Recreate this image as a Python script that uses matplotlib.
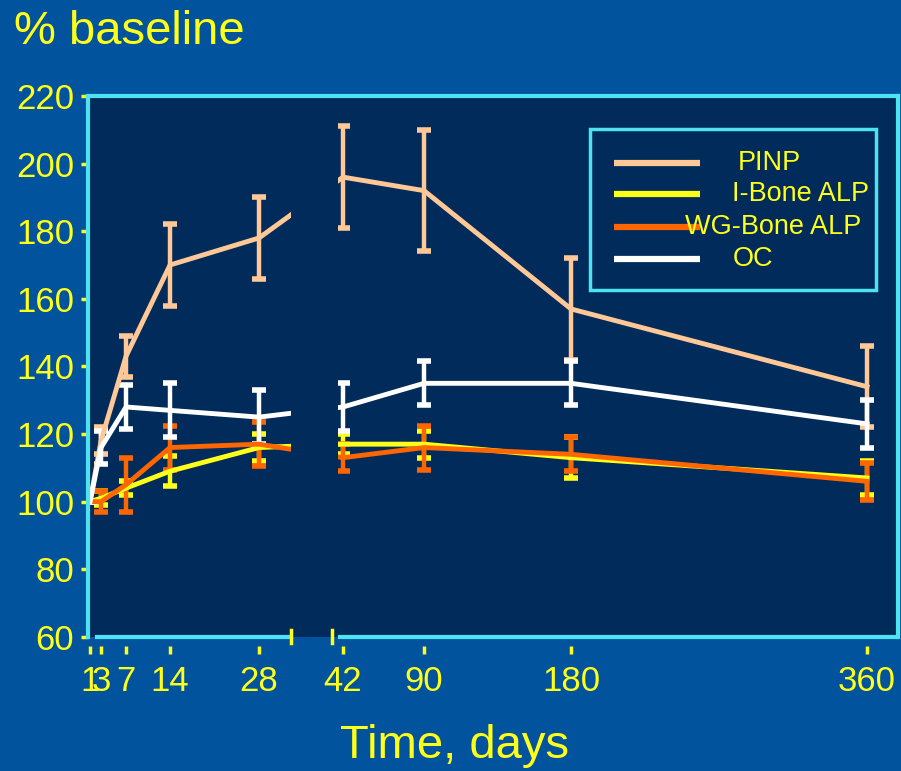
import matplotlib
matplotlib.use("Agg")
import matplotlib.pyplot as plt
import matplotlib.transforms as mtransforms
from matplotlib.patches import Rectangle
import numpy as np

# data
days = [1, 3, 7, 14, 28, 42, 90, 180, 360]
tick_labels = ["1", "3", "7", "14", "28", "42", "90", "180", "360"]

pinp = [100, 118, 143, 170, 178, 196, 192, 157, 134]
pinp_err = [0, 4, 6, 12, 12, 15, 18, 15, 12]
ibone = [100, 101, 104, 109, 116, 117, 117, 113, 107]
ibone_err = [0, 2, 2, 4.5, 4, 3, 4, 6, 5]
wgbone = [100, 100, 105, 116, 117, 113, 116, 114, 106]
wgbone_err = [0, 3, 8, 6.5, 6.5, 4, 6.5, 5, 5.5]
oc = [100, 116, 128, 127, 125, 128, 135, 135, 123]
oc_err = [0, 5, 6.5, 8, 8, 7, 6.5, 6.5, 7]

names = ["PINP", "I-Bone ALP", "WG-Bone ALP", "OC"]
values = [pinp, ibone, wgbone, oc]
errors = [pinp_err, ibone_err, wgbone_err, oc_err]
colors = ["#FFC896", "#FFFF1A", "#FF6600", "#FFFFFF"]

# piecewise-linear axis: day -> position along the axis
knot_days = np.array([0, 1, 3, 7, 14, 28, 42, 90, 180, 360, 375], dtype=float)
knot_pos = np.array([0, 2, 13, 38, 82, 171, 255, 336, 483, 779, 810], dtype=float)


def forward(x):
    return np.interp(x, knot_days, knot_pos)


def inverse(x):
    return np.interp(x, knot_pos, knot_days)


FIG_BG = "#00539C"
AX_BG = "#002B5B"
CYAN = "#4FE3F2"
YELLOW = "#FFFF1A"
plt.rcParams["font.family"] = ["Liberation Sans", "DejaVu Sans"]

fig = plt.figure(figsize=(9.01, 7.71), dpi=100, facecolor=FIG_BG)
ax = fig.add_axes([0.0977, 0.174, 0.899, 0.7015], facecolor=AX_BG)
ax.set_xscale("function", functions=(forward, inverse))
ax.set_xlim(0, 375)
ax.set_ylim(60, 220)

for name, vals, errs, col in zip(names, values, errors, colors):
    ax.errorbar(days, vals, yerr=errs, color=col, lw=3.5, elinewidth=3.2,
                capsize=5, capthick=4, zorder=2)

# axis break between 28 and 42 days
brk_lo, brk_hi = inverse(203), inverse(250)
ax.axvspan(brk_lo, brk_hi, color=AX_BG, zorder=2.2, lw=0)
trans = mtransforms.blended_transform_factory(ax.transData, ax.transAxes)
ax.spines["bottom"].set_bounds(inverse(9), brk_lo)
ax.plot([brk_hi, 375], [0, 0], transform=trans, color=CYAN, lw=3,
        clip_on=False, zorder=5, solid_capstyle="butt")
for xb in (inverse(203), inverse(244)):
    ax.plot([xb, xb], [-0.012, 0.012], transform=trans, color=YELLOW, lw=2.5,
            clip_on=False, zorder=6)

for sp in ax.spines.values():
    sp.set_color(CYAN)
    sp.set_linewidth(3)

# x ticks: detached short marks below the axis line
ax.set_xticks(days)
ax.set_xticklabels(tick_labels)
ax.plot(days, [-0.024] * len(days), transform=trans, ls="none", marker="|",
        ms=6, mew=2.5, color=YELLOW, clip_on=False)
ax.set_yticks(np.arange(60, 221, 20))
ax.tick_params(axis="both", colors=YELLOW, labelsize=25, direction="out",
               length=5, width=2.5)
ax.tick_params(axis="x", length=0, pad=20)
ax.tick_params(axis="y", pad=5)
ax.xaxis.set_minor_locator(plt.NullLocator())

# legend box drawn by hand (labels sit centred-ish, as in the slide)
ax.add_patch(Rectangle((0.620, 0.641), 0.353, 0.298, transform=ax.transAxes,
                       facecolor=AX_BG, edgecolor=CYAN, lw=2.5, zorder=7))
leg_y = [0.877, 0.818, 0.757, 0.698]
leg_tx = [0.802, 0.795, 0.737, 0.796]
for name, col, yy, tx in zip(names, colors, leg_y, leg_tx):
    ax.plot([0.649, 0.756], [yy, yy], transform=ax.transAxes, color=col,
            lw=4.5, solid_capstyle="butt", zorder=8)
    ax.text(tx, yy, name, transform=ax.transAxes, color=YELLOW, fontsize=19.5,
            ha="left", va="center", zorder=9)

fig.text(0.015, 0.958, "% baseline", color=YELLOW, fontsize=34,
         ha="left", va="center")
fig.text(0.505, 0.033, "Time, days", color=YELLOW, fontsize=34,
         ha="center", va="center")

fig.savefig("out.png", dpi=100, facecolor=FIG_BG)
